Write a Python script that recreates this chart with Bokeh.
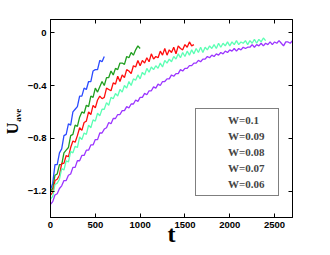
import numpy as np
from bokeh.plotting import figure
from bokeh.models import Range1d, FixedTicker, LinearAxis, Legend, LegendItem
from bokeh.embed import file_html
from bokeh.resources import INLINE

# ---- data ----
t_step = 25
u_w010 = [-1.19,-1.14,-1.00,-1.00,-0.91,-0.88,-0.78,-0.77,-0.69,-0.70,-0.60,-0.58,-0.56,
          -0.48,-0.48,-0.42,-0.43,-0.37,-0.37,-0.29,-0.28,-0.28,-0.21,-0.22,-0.18]
u_w009 = [-1.20,-1.18,-1.08,-1.07,-1.00,-1.00,-0.91,-0.89,-0.87,-0.78,-0.77,-0.70,-0.71,
          -0.64,-0.60,-0.61,-0.55,-0.56,-0.48,-0.49,-0.42,-0.45,-0.41,-0.37,-0.40,-0.34,
          -0.34,-0.29,-0.32,-0.27,-0.28,-0.23,-0.23,-0.24,-0.18,-0.19,-0.15,-0.17,-0.13,
          -0.10,-0.12]
u_w008 = [-1.23,-1.21,-1.12,-1.11,-1.08,-0.99,-0.99,-0.93,-0.94,-0.87,-0.82,-0.83,-0.78,
          -0.72,-0.74,-0.68,-0.67,-0.60,-0.62,-0.55,-0.57,-0.51,-0.48,-0.50,-0.49,-0.42,
          -0.43,-0.44,-0.38,-0.39,-0.33,-0.37,-0.32,-0.34,-0.28,-0.29,-0.31,-0.25,-0.26,
          -0.21,-0.25,-0.21,-0.23,-0.19,-0.22,-0.16,-0.20,-0.18,-0.19,-0.14,-0.17,-0.12,
          -0.17,-0.13,-0.15,-0.11,-0.16,-0.10,-0.12,-0.13,-0.09,-0.11,-0.07,-0.10,-0.09]
u_w007 = [-1.26,-1.24,-1.15,-1.14,-1.11,-1.03,-1.04,-0.97,-0.98,-0.90,-0.91,-0.86,-0.87,
          -0.79,-0.81,-0.76,-0.77,-0.70,-0.72,-0.66,-0.67,-0.61,-0.63,-0.58,-0.58,-0.53,
          -0.55,-0.49,-0.50,-0.46,-0.48,-0.43,-0.45,-0.40,-0.42,-0.37,-0.40,-0.35,-0.36,
          -0.32,-0.35,-0.30,-0.32,-0.27,-0.30,-0.26,-0.28,-0.25,-0.27,-0.23,-0.26,-0.21,
          -0.23,-0.20,-0.22,-0.18,-0.20,-0.16,-0.19,-0.15,-0.18,-0.14,-0.17,-0.13,-0.16,
          -0.12,-0.15,-0.11,-0.15,-0.11,-0.13,-0.10,-0.12,-0.09,-0.12,-0.08,-0.11,-0.08,
          -0.10,-0.07,-0.10,-0.07,-0.09,-0.06,-0.09,-0.07,-0.08,-0.06,-0.09,-0.06,-0.08,
          -0.05,-0.08,-0.05,-0.07,-0.04,-0.06]
u_w006 = [-1.30,-1.28,-1.23,-1.22,-1.18,-1.16,-1.12,-1.12,-1.08,-1.07,-1.02,-1.02,-0.97,
          -0.97,-0.93,-0.93,-0.89,-0.89,-0.85,-0.85,-0.81,-0.81,-0.76,-0.76,-0.73,-0.72,
          -0.68,-0.69,-0.65,-0.65,-0.62,-0.62,-0.59,-0.59,-0.56,-0.57,-0.54,-0.54,-0.51,
          -0.52,-0.49,-0.49,-0.46,-0.47,-0.44,-0.44,-0.41,-0.42,-0.39,-0.40,-0.37,-0.37,
          -0.35,-0.35,-0.32,-0.33,-0.31,-0.31,-0.28,-0.29,-0.27,-0.27,-0.25,-0.25,-0.23,
          -0.23,-0.21,-0.22,-0.20,-0.20,-0.18,-0.19,-0.17,-0.18,-0.16,-0.17,-0.15,-0.16,
          -0.14,-0.15,-0.13,-0.14,-0.12,-0.14,-0.12,-0.13,-0.11,-0.12,-0.11,-0.11,-0.09,
          -0.11,-0.09,-0.10,-0.08,-0.10,-0.08,-0.09,-0.07,-0.09,-0.07,-0.08,-0.06,-0.08,
          -0.10,-0.07,-0.07,-0.08,-0.06]

series_names = ["W=0.1", "W=0.09", "W=0.08", "W=0.07", "W=0.06"]
series_values = [u_w010, u_w009, u_w008, u_w007, u_w006]
colors = ["#2b4bff", "#1f9e1f", "#ff0d0d", "#5cffb4", "#9b35ff"]
legend_colors = ["#a6b0ff", "#8fd08f", "#ff9090", "#b0ffd8", "#d0a6ff"]

x_ticks = [0, 500, 1000, 1500, 2000, 2500]
y_ticks = [-1.2, -0.8, -0.4, 0]
y_tick_labels = {-1.2: "\u22121.2", -0.8: "\u22120.8", -0.4: "\u22120.4", 0: "0"}
x_label = "t"
y_label_main = "U"
y_label_sub = "ave"

NB = "\u00a0"

p = figure(width=316, height=255, output_backend="svg", toolbar_location=None,
           x_range=Range1d(0, 2700), y_range=Range1d(-1.4, 0.1),
           min_border_left=44, min_border_right=24, min_border_top=19, min_border_bottom=38)
p.background_fill_color = "white"
p.border_fill_color = "white"
p.grid.visible = False
p.outline_line_color = "black"
p.outline_line_width = 1

tick_font = "Liberation Sans"
label_font = "Liberation Serif"

def style_axis(ax, ticks, show_labels):
    ax.ticker = FixedTicker(ticks=ticks)
    ax.major_tick_in = 4
    ax.major_tick_out = 0
    ax.minor_tick_in = 0
    ax.minor_tick_out = 0
    ax.axis_line_color = "black"
    ax.major_tick_line_color = "black"
    if show_labels:
        ax.major_label_text_font = tick_font
        ax.major_label_text_font_style = "bold"
        ax.major_label_text_font_size = "9.5px"
        ax.major_label_text_color = "black"
        ax.major_label_standoff = 4
    else:
        ax.major_label_text_font_size = "1px"
        ax.major_label_text_color = None
        ax.major_label_standoff = 0

style_axis(p.xaxis[0], x_ticks, True)
style_axis(p.yaxis[0], y_ticks, True)
p.yaxis[0].major_label_overrides = y_tick_labels

# x label "t"
xa = p.xaxis[0]
xa.axis_label = x_label
xa.axis_label_text_font = label_font
xa.axis_label_text_font_style = "bold"
xa.axis_label_text_font_size = "24px"
xa.axis_label_standoff = -10
xa.axis_label_text_color = "black"

# y label: subscript "ave" on the inner axis, "U" on an outer axis
ya = p.yaxis[0]
ya.axis_label = NB * 3 + y_label_sub
ya.axis_label_text_font = label_font
ya.axis_label_text_font_style = "bold"
ya.axis_label_text_font_size = "9px"
ya.axis_label_standoff = 2
ya.axis_label_text_color = "black"

outer = LinearAxis(ticker=FixedTicker(ticks=[]))
outer.axis_line_color = None
outer.major_tick_in = 0
outer.major_tick_out = 0
outer.minor_tick_in = 0
outer.minor_tick_out = 0
outer.major_label_standoff = 0
outer.axis_label = y_label_main + NB * 5
outer.axis_label_text_font = label_font
outer.axis_label_text_font_style = "bold"
outer.axis_label_text_font_size = "16px"
outer.axis_label_standoff = -11
outer.axis_label_text_color = "black"
p.add_layout(outer, "left")

top = LinearAxis()
right = LinearAxis()
style_axis(top, x_ticks, False)
style_axis(right, y_ticks, False)
p.add_layout(top, "above")
p.add_layout(right, "right")

for vals, c in zip(series_values, colors):
    tt = np.arange(len(vals)) * t_step
    p.line(tt, vals, line_color=c, line_width=1.3)

items = []
for name, lc in zip(series_names, legend_colors):
    r = p.line([], [], line_color=lc, line_width=2)
    items.append(LegendItem(label=name, renderers=[r]))

legend = Legend(items=items, location=(145, 21))
legend.label_text_font = label_font
legend.label_text_font_style = "bold"
legend.label_text_font_size = "11px"
legend.label_height = 14
legend.glyph_height = 14
legend.glyph_width = 25
legend.label_standoff = 3
legend.label_width = 46
legend.spacing = 2
legend.padding = 4
legend.margin = 0
legend.border_line_color = "black"
legend.border_line_width = 1
legend.background_fill_color = "white"
legend.background_fill_alpha = 1
p.add_layout(legend, "center")

open("out.html", "w").write(file_html(p, INLINE))
